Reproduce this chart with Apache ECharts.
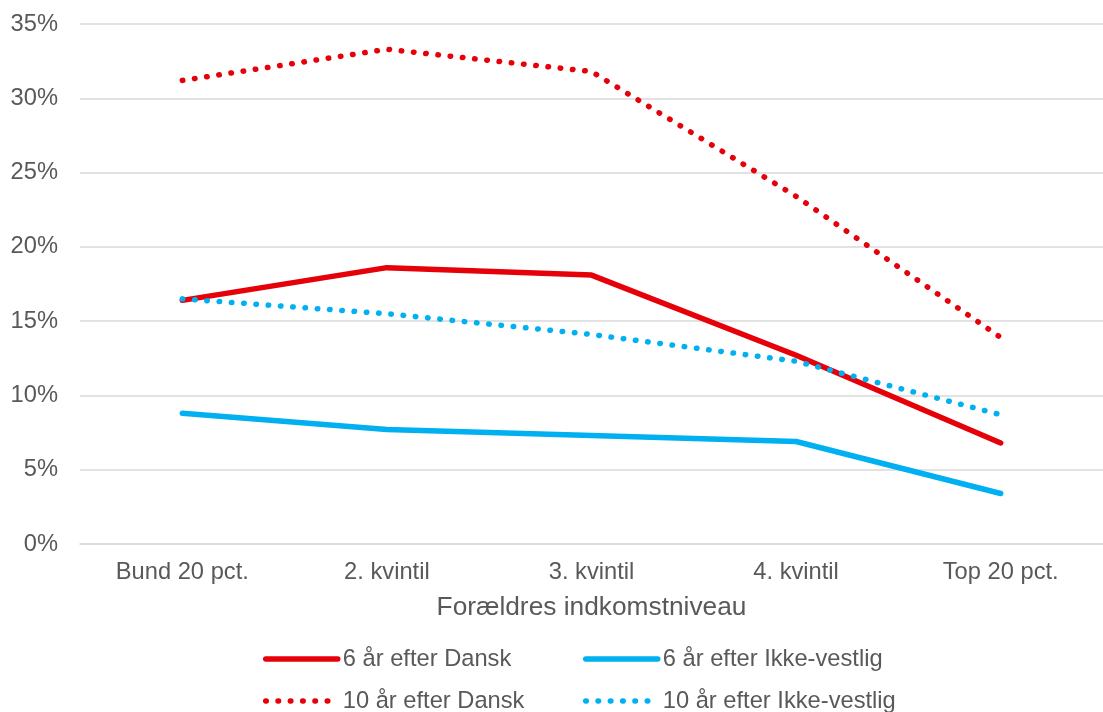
<!DOCTYPE html>
<html>
<head>
<meta charset="utf-8">
<script src="https://cdn.jsdelivr.net/npm/echarts@6/dist/echarts.min.js"></script>
<style>
  html, body { margin: 0; padding: 0; background: #fff; }
  #chart { width: 1103px; height: 712px; }
</style>
</head>
<body>
<div id="chart"></div>
<script>
const categories = ['Bund 20 pct.', '2. kvintil', '3. kvintil', '4. kvintil', 'Top 20 pct.'];
const dansk6 = [16.4, 18.6, 18.1, 12.7, 6.8];
const ikkeVestlig6 = [8.8, 7.7, 7.3, 6.9, 3.4];
const dansk10 = [31.2, 33.3, 31.8, 23.4, 13.9];
const ikkeVestlig10 = [16.5, 15.5, 14.1, 12.3, 8.7];
const seriesNames = ['6 år efter Dansk', '6 år efter Ikke-vestlig', '10 år efter Dansk', '10 år efter Ikke-vestlig'];
const xAxisTitle = 'Forældres indkomstniveau';

const RED = '#E6000A';
const BLUE = '#00B0F0';
const FONT = '"Liberation Sans", Arial, sans-serif';
const TEXT = '#595959';
const LW = 5.5;
const DOTS = [0.5, 11.8];

function mk(name, data, color, dotted) {
  return {
    name: name,
    type: 'line',
    data: data,
    symbol: 'none',
    smooth: false,
    lineStyle: {
      color: color,
      width: LW,
      type: dotted ? DOTS : 'solid',
      cap: 'round',
      join: 'round'
    },
    itemStyle: { color: color },
    emphasis: { disabled: true }
  };
}

const legendCommon = {
  orient: 'vertical',
  top: 646,
  height: 80,
  padding: 0,
  itemWidth: 72,
  itemHeight: 14,
  itemGap: 16,
  selectedMode: false,
  textStyle: { fontFamily: FONT, fontSize: 23.7, color: TEXT, lineHeight: 26 },
  lineStyle: { width: LW },
  itemStyle: { opacity: 0, borderWidth: 0 }
};

const chart = echarts.init(document.getElementById('chart'), null, { renderer: 'canvas' });
chart.setOption({
  animation: false,
  backgroundColor: '#fff',
  grid: { left: 80, top: 24, height: 520, width: 1036, containLabel: false },
  legend: [
    Object.assign({}, legendCommon, { left: 263, data: [seriesNames[0], seriesNames[2]] }),
    Object.assign({}, legendCommon, { left: 583, data: [seriesNames[1], seriesNames[3]] })
  ],
  xAxis: {
    type: 'category',
    data: categories,
    boundaryGap: true,
    axisLine: { show: true, lineStyle: { color: '#D9D9D9', width: 1.6 } },
    axisTick: { show: false },
    axisLabel: { fontFamily: FONT, fontSize: 23.7, color: TEXT, margin: 16, lineHeight: 24 },
    name: xAxisTitle,
    nameLocation: 'middle',
    nameGap: 50,
    nameTextStyle: { fontFamily: FONT, fontSize: 26.3, color: TEXT, lineHeight: 28 }
  },
  yAxis: {
    type: 'value',
    min: 0,
    max: 35,
    interval: 5,
    axisLine: { show: false },
    axisTick: { show: false },
    splitLine: { show: true, lineStyle: { color: '#D9D9D9', width: 1.6 } },
    axisLabel: { formatter: '{value}%', fontFamily: FONT, fontSize: 23.7, color: TEXT, margin: 22 }
  },
  series: [
    mk(seriesNames[0], dansk6, RED, false),
    mk(seriesNames[1], ikkeVestlig6, BLUE, false),
    mk(seriesNames[2], dansk10, RED, true),
    mk(seriesNames[3], ikkeVestlig10, BLUE, true)
  ]
});
</script>
</body>
</html>
